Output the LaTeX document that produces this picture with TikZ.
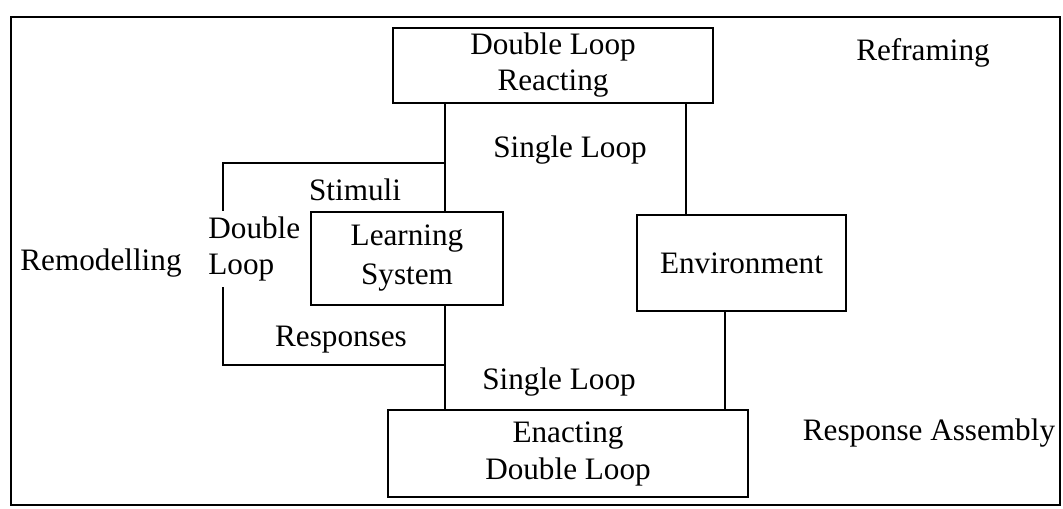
\documentclass[tikz,border=0pt]{standalone}
\usepackage{fontspec}
\setmainfont{Liberation Serif}
\begin{document}
\begin{tikzpicture}[x=0.5pt,y=-0.5pt,
  box/.style={draw,line width=1.1pt,inner sep=0pt,align=center},
  lbl/.style={inner sep=0pt,align=center},
  conn/.style={line width=1.1pt},
  font=\fontsize{15.6}{18}\selectfont]
\useasboundingbox (0,0) rectangle (1063,508);
\draw[conn] (11,17) rectangle (1060,505);
% boxes
\node[box,minimum width=160pt,minimum height=37.5pt] (react) at (553,65.5) {Double Loop\\Reacting};
\node[box,minimum width=96pt,minimum height=46.5pt,font=\fontsize{15.6}{19.5}\selectfont] (learn) at (407,258.5) {Learning\\System};
\node[box,minimum width=104.5pt,minimum height=48pt] (env) at (741.5,263) {Environment};
\node[box,minimum width=180pt,minimum height=43.5pt,font=\fontsize{15.6}{18.5}\selectfont] (enact) at (568,453.5) {Enacting\\Double Loop};
% connector coordinates
\coordinate (s1) at (445,163);
\coordinate (s2) at (445,365);
\coordinate (b1) at (223,163);
\coordinate (b2) at (223,365);
\coordinate (e1) at (686,0);
\coordinate (e2) at (725,0);
\draw[conn] (react.south -| s1) -- (learn.north -| s1);
\draw[conn] (learn.south -| s1) -- (enact.north -| s1);
\draw[conn] (react.south -| e1) -- (env.north -| e1);
\draw[conn] (env.south -| e2) -- (enact.north -| e2);
\draw[conn] (s1) -- (b1) -- (b2) -- (s2);
% labels
\node[lbl] (refr) at (923,53) {Reframing};
\node[lbl] (sl1) at (570,150) {Single Loop};
\node[lbl] (stim) at (355,190) {Stimuli};
\node[lbl,align=left,anchor=west,fill=white,inner xsep=1pt,inner ysep=3pt] (dl) at (206,249) {Double\\Loop};
\node[lbl] (remod) at (101,263) {Remodelling};
\node[lbl] (resp) at (341,340) {Responses};
\node[lbl] (sl2) at (559,382) {Single Loop};
\node[lbl] (ra) at (929,433) {Response Assembly};
\end{tikzpicture}
\end{document}
